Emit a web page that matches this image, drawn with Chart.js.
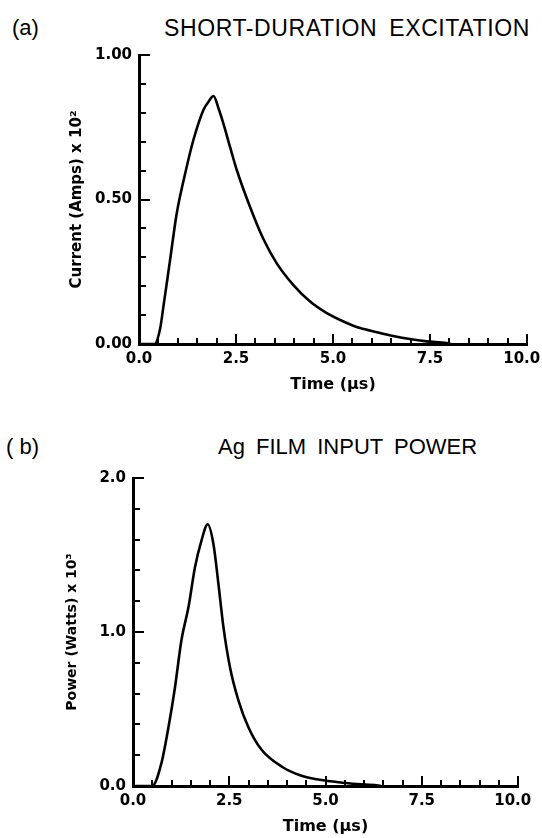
<!DOCTYPE html>
<html>
<head>
<meta charset="utf-8">
<script src="https://cdn.jsdelivr.net/npm/chart.js@4.4.1/dist/chart.umd.min.js"></script>
<style>
body{margin:0;background:#fff;}
#page{position:relative;width:542px;height:838px;overflow:hidden;font-family:"Liberation Sans",Arial,sans-serif;color:#000;}
.lbl{position:absolute;font-size:22px;white-space:nowrap;line-height:1;}
canvas{position:absolute;left:0;}
</style>
</head>
<body>
<div id="page">
  <div class="lbl" style="left:12px;top:17px">(a)</div>
  <div class="lbl" style="left:164px;top:17px;font-size:23px;letter-spacing:0.6px;word-spacing:5px">SHORT-DURATION EXCITATION</div>
  <div class="lbl" style="left:6px;top:436px">( b)</div>
  <div class="lbl" style="left:218px;top:436px;word-spacing:5px">Ag FILM INPUT POWER</div>
  <canvas id="chartA" width="542" height="400" style="top:0"></canvas>
  <canvas id="chartB" width="542" height="418" style="top:420px"></canvas>
</div>
<script>
// (a) current pulse
var timeA    = [0, 0.40, 0.54, 0.63, 0.80, 0.97, 1.19, 1.40, 1.66, 1.80, 1.92, 2.05, 2.17, 2.35, 2.52, 2.86, 3.20, 3.55, 3.98, 4.41, 4.84, 5.27, 5.70, 6.13, 6.55, 6.98, 7.41, 7.93, 8.05];
var currentA = [0, 0, 0.05, 0.13, 0.29, 0.45, 0.59, 0.705, 0.81, 0.84, 0.858, 0.815, 0.765, 0.68, 0.602, 0.475, 0.365, 0.279, 0.204, 0.147, 0.107, 0.078, 0.055, 0.041, 0.028, 0.017, 0.009, 0.003, 0];

// (b) film input power
var timeB  = [0, 0.50, 0.74, 0.92, 1.09, 1.26, 1.44, 1.61, 1.78, 1.94, 2.09, 2.22, 2.35, 2.52, 2.74, 3.00, 3.34, 3.90, 4.34, 4.77, 5.29, 5.81, 6.33, 6.45];
var powerB = [0, 0, 0.15, 0.38, 0.64, 0.95, 1.16, 1.42, 1.595, 1.70, 1.57, 1.31, 1.03, 0.77, 0.555, 0.38, 0.235, 0.12, 0.07, 0.044, 0.026, 0.012, 0.005, 0];

// labelled ticks
var xLabelTicks = [0, 2.5, 5, 7.5, 10];
var yLabelTicksA = [0, 0.5, 1];
var yLabelTicksB = [0, 1, 2];

function hasTick(list, v){
  for(var i=0;i<list.length;i++){
    if(Math.abs(list[i]-v)<1e-6) return true;
  }
  return false;
}

// tick marks point into the plot, labelled ones are longer
var inwardTicks = {
  id: 'inwardTicks',
  afterDatasetsDraw: function(chart){
    var ctx = chart.ctx, area = chart.chartArea;
    var xs = chart.scales.x, ys = chart.scales.y;
    ctx.save();
    ctx.strokeStyle = '#000';
    ctx.lineWidth = 2;
    ctx.beginPath();
    xs.ticks.forEach(function(t){
      var px = Math.round(xs.getPixelForValue(t.value));
      var len = t.label !== '' ? 10 : 6;
      ctx.moveTo(px, area.bottom);
      ctx.lineTo(px, area.bottom - len);
    });
    ys.ticks.forEach(function(t){
      var py = Math.round(ys.getPixelForValue(t.value));
      var len = t.label !== '' ? 11 : 7;
      ctx.moveTo(area.left, py);
      ctx.lineTo(area.left + len, py);
    });
    ctx.stroke();
    ctx.restore();
  }
};

function makeChart(id, times, values, yMax, yStep, yLabels, yDigits, yTitle, yTitleSize, pad, yWidth){
  var pts = [];
  for(var i=0;i<times.length;i++) pts.push({x: times[i], y: values[i]});
  return new Chart(document.getElementById(id), {
    type: 'line',
    data: {
      datasets: [{
        data: pts,
        borderColor: '#000',
        borderWidth: 2.6,
        pointRadius: 0,
        fill: false,
        cubicInterpolationMode: 'monotone'
      }]
    },
    options: {
      responsive: false,
      animation: false,
      layout: {padding: pad},
      plugins: {legend: {display: false}, tooltip: {enabled: false}},
      scales: {
        x: {
          type: 'linear', min: 0, max: 10,
          afterFit: function(s){ s.height = 50; s.paddingLeft = 0; s.paddingRight = 0; },
          grid: {drawOnChartArea: false, drawTicks: false},
          border: {display: true, color: '#000', width: 3},
          ticks: {
            stepSize: 0.5, autoSkip: false, maxRotation: 0, padding: 6, color: '#000',
            font: {family: 'DejaVu Sans', size: 15, weight: 'bold'},
            callback: function(v){
              if(!hasTick(xLabelTicks, v)) return '';
              // trailing space nudges the last label left so it stays on the page
              return v === 10 ? v.toFixed(1) + '\u2002\u2009' : v.toFixed(1);
            }
          },
          title: {display: true, text: 'Time (\u00b5s)', color: '#000',
            font: {family: 'DejaVu Sans', size: 16, weight: 'bold'}, padding: {top: 4, bottom: 0}}
        },
        y: {
          type: 'linear', min: 0, max: yMax,
          afterFit: function(s){ s.width = yWidth; s.paddingTop = 0; s.paddingBottom = 0; },
          grid: {drawOnChartArea: false, drawTicks: false},
          border: {display: true, color: '#000', width: 3},
          ticks: {
            stepSize: yStep, autoSkip: false, padding: 7, color: '#000',
            font: {family: 'DejaVu Sans', size: 15, weight: 'bold'},
            callback: function(v){ return hasTick(yLabels, v) ? v.toFixed(yDigits) : ''; }
          },
          title: {display: true, text: yTitle, color: '#000',
            font: {family: 'DejaVu Sans', size: yTitleSize, weight: 'bold'}, padding: 0}
        }
      }
    },
    plugins: [inwardTicks]
  });
}

makeChart('chartA', timeA, currentA, 1, 0.1, yLabelTicksA, 2,
  'Current (Amps) x 10\u00b2', 15, {left: 68, right: 15, top: 55, bottom: 6}, 71);
makeChart('chartB', timeB, powerB, 2, 0.2, yLabelTicksB, 1,
  'Power (Watts) x 10\u00b3', 14, {left: 64, right: 24, top: 58, bottom: 2}, 69);
</script>
</body>
</html>
